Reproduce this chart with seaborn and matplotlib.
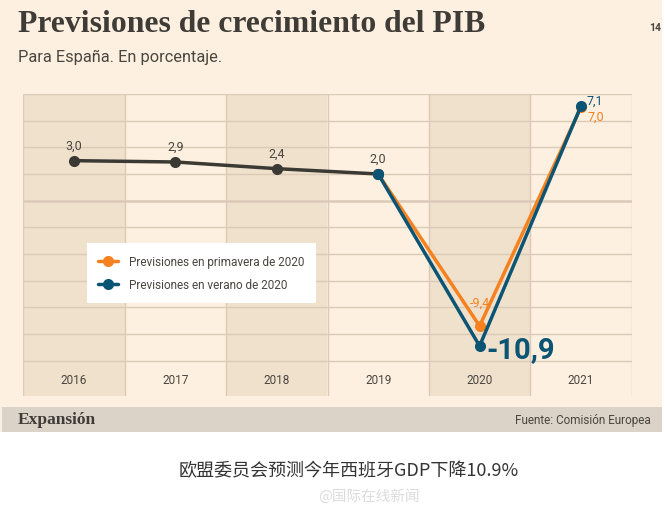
import matplotlib
matplotlib.use("Agg")
import matplotlib.pyplot as plt
import seaborn as sns
import pandas as pd
from matplotlib.patches import Rectangle
from matplotlib.legend_handler import HandlerLine2D

# ---- data ----
years = [2016, 2017, 2018, 2019, 2020, 2021]
hist_years = [2016, 2017, 2018, 2019]
hist_values = [3.0, 2.9, 2.4, 2.0]
fc_years = [2019, 2020, 2021]
spring_values = [2.0, -9.4, 7.0]
summer_values = [2.0, -10.9, 7.1]
spring_label = "Previsiones en primavera de 2020"
summer_label = "Previsiones en verano de 2020"
title = "Previsiones de crecimiento del PIB"
subtitle = "Para España. En porcentaje."
caption_cn = "欧盟委员会预测今年西班牙GDP下降10.9%"
watermark = "@国际在线新闻"

CREAM = "#fdf0e0"
SHADE = "#f0e1cd"
GRID = "#dacab7"
DARK = "#3b3934"
ORANGE = "#f5821e"
BLUE = "#0c5474"
TEXT = "#4a463f"
FOOT = "#dbd2c8"

sns.set_theme(style="white")
plt.rcParams['font.family'] = ['Roboto', 'DejaVu Sans']

fig = plt.figure(figsize=(6.65, 5.10), dpi=100)
fig.patch.set_facecolor("white")
W, H = 665, 510
def fx(px): return px / W
def fy(py): return 1 - py / H

# cream panel + footer band
fig.patches.append(Rectangle((0, fy(433)), fx(662), 433 / H, transform=fig.transFigure,
                             facecolor=CREAM, edgecolor="none", zorder=-2))
fig.patches.append(Rectangle((fx(2), fy(433)), fx(660), 25 / H, transform=fig.transFigure,
                             facecolor=FOOT, edgecolor="none", zorder=-1))

ax = fig.add_axes([fx(23.3), fy(396.7), fx(631.7) - fx(23.3), fy(95) - fy(396.7)])
ax.set_facecolor(CREAM)

df_hist = pd.DataFrame({"year": hist_years, "value": hist_values})
df_spring = pd.DataFrame({"year": fc_years, "value": spring_values})
df_summer = pd.DataFrame({"year": fc_years, "value": summer_values})

ax.set_xlim(years[0] - 0.5, years[-1] + 0.5)
ax.set_ylim(-14.63, 8)

# alternate shaded columns
for i, y in enumerate(years):
    if i % 2 == 0:
        ax.axvspan(y - 0.5, y + 0.5, color=SHADE, zorder=0, lw=0)
    ax.axvline(y - 0.5, color=GRID, lw=1.0, zorder=1)
ax.axvline(years[-1] + 0.5, color=GRID, lw=1.0, zorder=1)
for g in range(-12, 9, 2):
    ax.axhline(g, color=GRID, lw=1.8 if g == 0 else 1.0, zorder=1)

sns.lineplot(data=df_hist, x="year", y="value", ax=ax, color=DARK, lw=2.5,
             marker="o", markersize=8, markeredgewidth=0, zorder=3)
sns.lineplot(data=df_spring, x="year", y="value", ax=ax, color=ORANGE, lw=2.5,
             marker="o", markersize=8, markeredgewidth=0, zorder=4, label=spring_label)
sns.lineplot(data=df_summer, x="year", y="value", ax=ax, color=BLUE, lw=2.5,
             marker="o", markersize=8, markeredgewidth=0, zorder=5, label=summer_label)
ax.plot([fc_years[0]], [summer_values[0]], "o", color=BLUE, ms=8, mew=0, zorder=6)

for s in ax.spines.values():
    s.set_visible(False)
ax.set_xticks([])
ax.set_yticks([])
ax.set_xlabel("")
ax.set_ylabel("")

for y in years:
    ax.text(y, -13.4, str(y), ha="center", va="center", fontsize=8.5, color=TEXT, zorder=6)

def fmt(v):
    return f"{v:.1f}".replace(".", ",")

for x, v in zip(hist_years, hist_values):
    ax.text(x, v + 1.15, fmt(v), ha="center", va="center", fontsize=9, color=TEXT, zorder=6)

ax.text(fc_years[1], spring_values[1] + 1.8, fmt(spring_values[1]), ha="center", va="center",
        fontsize=9, color=ORANGE, zorder=6)
ax.text(fc_years[1] + 0.07, summer_values[1] - 0.2, fmt(summer_values[1]), ha="left", va="center",
        fontsize=21, fontweight="bold", color=BLUE, zorder=6)
ax.text(fc_years[2] + 0.05, summer_values[2] + 0.4, fmt(summer_values[2]), ha="left", va="center",
        fontsize=9, color=BLUE, zorder=6)
ax.text(fc_years[2] + 0.06, spring_values[2] - 0.7, fmt(spring_values[2]), ha="left", va="center",
        fontsize=9, color=ORANGE, zorder=6)

class RightMarker(HandlerLine2D):
    def get_xdata(self, legend, xdescent, ydescent, width, height, fontsize):
        xdata = [-xdescent, -xdescent + width]
        return xdata, [-xdescent + width]

handles, labels = ax.get_legend_handles_labels()
leg = ax.legend(handles, labels, loc="upper left", bbox_to_anchor=(0.104, 0.506),
                frameon=True, fancybox=False, framealpha=1, facecolor="white",
                edgecolor="none", fontsize=8.5, handlelength=1.7, handletextpad=0.9,
                borderpad=1.0, labelspacing=0.9, borderaxespad=0,
                handler_map={h: RightMarker(numpoints=1) for h in handles})
for t in leg.get_texts():
    t.set_color(TEXT)
leg.set_zorder(7)

fig.text(fx(18), fy(25), title, family=["Liberation Serif", "DejaVu Serif"], fontweight="bold",
         fontsize=22.8, color="#3f3c37", ha="left", va="center")
fig.text(fx(18), fy(57), subtitle, fontsize=11.8, color=TEXT, ha="left", va="center")
fig.text(fx(661), fy(28), "14", fontsize=7.5, fontweight="bold", color=TEXT, ha="right", va="center")

fig.text(fx(18), fy(420), "Expansión", family=["Liberation Serif", "DejaVu Serif"], fontweight="bold",
         fontsize=12.5, color="#3f3c37", ha="left", va="center", zorder=3)
fig.text(fx(651), fy(421), "Fuente: Comisión Europea", fontsize=8.5, color=TEXT,
         ha="right", va="center", zorder=3)

fig.text(0.525, fy(471), caption_cn, family=["Noto Sans CJK SC", "DejaVu Sans"], fontsize=13,
         color="#333333", ha="center", va="center")
fig.text(0.555, fy(497), watermark, family=["Noto Sans CJK SC", "DejaVu Sans"], fontsize=10.5,
         color="#dcdcdc", ha="center", va="center")

fig.savefig("out.png", dpi=100, facecolor=fig.get_facecolor())
